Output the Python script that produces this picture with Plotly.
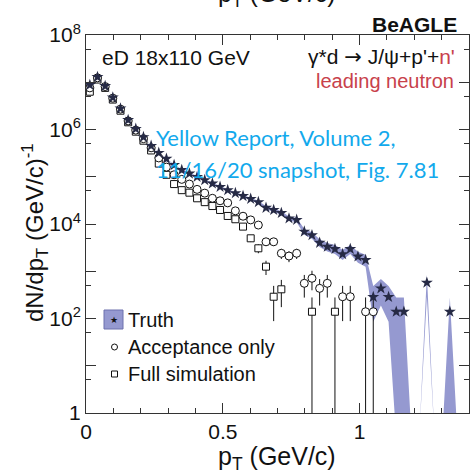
import plotly.graph_objects as go

# ---------------- data ----------------
pt = [0.014, 0.042, 0.070, 0.098, 0.126, 0.154, 0.182, 0.210, 0.238, 0.266,
      0.294, 0.322, 0.350, 0.378, 0.406, 0.434, 0.462, 0.490, 0.518, 0.546,
      0.574, 0.602, 0.630, 0.658, 0.686, 0.714, 0.742, 0.770, 0.798, 0.826,
      0.854, 0.882, 0.910, 0.938, 0.966, 0.994, 1.022, 1.050, 1.078, 1.106,
      1.134, 1.162, 1.190, 1.218, 1.246, 1.274, 1.302, 1.330, 1.358, 1.386]

truth = [8.75e6, 1.29e7, 8.3e6, 4.75e6, 2.78e6, 1.59e6, 1.03e6, 6.9e5, 4.5e5, 3.2e5,
         2.4e5, 1.77e5, 1.39e5, 1.17e5, 9.9e4, 8.5e4, 7.2e4, 6.1e4, 5.2e4, 4.5e4,
         3.9e4, 3.4e4, 2.9e4, 2.2e4, 1.98e4, 1.71e4, 1.31e4, 1.22e4, 6.9e3, 5.8e3,
         4.0e3, 3.3e3, 2.96e3, 2.3e3, 2.96e3, 2.05e3, 1.73e3, 285, 435, 285,
         139, 139, None, None, 573, None, None, 139, None, None]
truth_err = [35000, 42500, 34100, 25800, 19700, 14900, 12000, 9830, 7940, 6690,
             5800, 4980, 4410, 4050, 3720, 3450, 3170, 2920, 2700, 2510,
             2340, 2180, 2010, 1750, 1660, 1550, 1350, 1310, 983, 901,
             748, 680, 644, 567, 644, 536, 492, 200, 247, 200,
             140, 140, None, None, 283, None, None, 140, None, None]

acc = [7.6e6, 1.24e7, 8.1e6, 4.6e6, 2.7e6, 1.52e6, 9.7e5, 6.4e5, 4.1e5, 2.5e5,
       1.6e5, 1.1e5, 8.8e4, 7.0e4, 5.4e4, 4.5e4, 3.5e4, 3.1e4, 2.8e4, 1.9e4,
       1.46e4, 1.22e4, 9.5e3, 4.2e3, 4.2e3, 2.4e3, 2.1e3, 2.4e3, 556, 710,
       435, 556, None, 289, 289, None, 139, 139, None, None,
       None, None, None, None, None, None, None, None, None, None]
acc_err = [32600, 41700, 33700, 25400, 19400, 14600, 11650, 9470, 7580, 5920,
           4730, 3920, 3510, 3130, 2750, 2510, 2210, 2080, 1980, 1630,
           1430, 1307, 1153, 767, 767, 580, 542, 580, 279, 315,
           247, 279, None, 201, 201, None, 140, 140, None, None,
           None, None, None, None, None, None, None, None, None, None]

full = [6.3e6, 1.14e7, 7.6e6, 4.3e6, 2.5e6, 1.42e6, 9.0e5, 5.8e5, 3.6e5, 1.9e5,
        1.1e5, 7.0e4, 5.2e4, 4.6e4, 3.5e4, 2.9e4, 2.4e4, 1.98e4, 1.48e4, 1.26e4,
        8.8e3, 4.98e3, 3.06e3, 1.25e3, 289, 415, None, None, None, 139,
        None, None, 139, None, None, None, None, None, None, None,
        None, None, None, None, None, None, None, None, None, None]
full_err = [29700, 40000, 32600, 24500, 18700, 14100, 11200, 9010, 7100, 5160,
            3920, 3130, 2700, 2540, 2210, 2010, 1830, 1660, 1440, 1330,
            1110, 835, 655, 418, 201, 241, None, None, None, 140,
            None, None, 140, None, None, None, None, None, None, None,
            None, None, None, None, None, None, None, None, None, None]

x_tickvals = [0, 0.5, 1]
x_ticktext = ["0", "0.5", "1"]
x_minor = [0.1, 0.2, 0.3, 0.4, 0.6, 0.7, 0.8, 0.9, 1.1, 1.2, 1.3]
y_tickvals = [1, 1e1, 1e2, 1e3, 1e4, 1e5, 1e6, 1e7, 1e8]
y_ticktext = ["1", " ", "10<sup>2</sup>", " ", "10<sup>4</sup>", " ", "10<sup>6</sup>", " ", "10<sup>8</sup>"]
y_minor = [5, 50, 500, 5e3, 5e4, 5e5, 5e6, 5e7]

# ---------------- layout geometry ----------------
W = H = 473
L, R, T, B = 86, 4, 35, 60
PW, PH = W - L - R, H - T - B
FONT = "Liberation Sans, Arial, sans-serif"
BAND = "#9599d0"
RED = "#c8414b"
BLUE = "#12a9ec"


def px(x):
    return (x - L) / PW


def py(y):
    return (H - B - y) / PH


floor = 0.3
hi = [(v + e) if v else floor for v, e in zip(truth, truth_err)]
lo = [max(v - e, floor) if v else floor for v, e in zip(truth, truth_err)]

fig = go.Figure()
fig.add_trace(go.Scatter(x=pt + pt[::-1], y=hi + lo[::-1], fill="toself",
                         fillcolor=BAND, line=dict(width=0), mode="lines",
                         hoverinfo="skip", showlegend=False))
fig.add_trace(go.Scatter(x=pt, y=full, mode="markers",
                         marker=dict(symbol="square", size=7, color="white",
                                     line=dict(color="#111", width=1)),
                         error_y=dict(type="data", array=full_err, color="#111",
                                      thickness=1, width=0),
                         showlegend=False))
fig.add_trace(go.Scatter(x=pt, y=acc, mode="markers",
                         marker=dict(symbol="circle", size=8, color="white",
                                     line=dict(color="#111", width=1)),
                         error_y=dict(type="data", array=acc_err, color="#111",
                                      thickness=1, width=0),
                         showlegend=False))
fig.add_trace(go.Scatter(x=pt, y=truth, mode="markers",
                         marker=dict(symbol="star", size=9, color="#262a45",
                                     line=dict(width=0)),
                         showlegend=False))

ann = []


def text(x, y, s, size, xanchor="left", color="#111", angle=0, family=FONT):
    ann.append(dict(x=px(x), y=py(y), xref="paper", yref="paper", text=s,
                    showarrow=False, xanchor=xanchor, yanchor="middle",
                    textangle=angle, font=dict(size=size, color=color, family=family)))


text(459, 24, "<b>BeAGLE</b>", 21, "right")
text(100, 57, "eD 18x110 GeV", 21)
text(457, 57, "γ*d <span style='font-family:DejaVu Sans'>→</span> J/ψ+p'+"
     "<span style='color:" + RED + "'>n'</span>", 21, "right")
text(456, 81, "leading neutron", 20, "right", color=RED)
text(154, 137, "Yellow Report, Volume 2,", 22, color=BLUE, family="Lato")
text(154, 169, "11/16/20 snapshot, Fig. 7.81", 22, color=BLUE, family="Lato")
text(126, 320, "Truth", 20)
text(126, 347, "Acceptance only", 20)
text(126, 374, "Full simulation", 20)
text(114, 320, "★", 9, "center", color="#111", family="DejaVu Sans")
text(277, 458, "p<sub>T</sub> (GeV/c)", 25, "center")
text(277, -5, "p<sub>T</sub> (GeV/c)", 25, "center")
text(35, 233, "dN/dp<sub>T</sub> (GeV/c)<sup>-1</sup>", 24, "center", angle=-90)

shapes = [
    dict(type="rect", xref="paper", yref="paper", x0=px(104), x1=px(123),
         y0=py(329), y1=py(310), fillcolor=BAND, line=dict(color="#6d71ad", width=1)),
    dict(type="circle", xref="paper", yref="paper", x0=px(111.5), x1=px(117.5),
         y0=py(350), y1=py(344), fillcolor="white", line=dict(color="#111", width=1)),
    dict(type="rect", xref="paper", yref="paper", x0=px(111.5), x1=px(117.5),
         y0=py(377), y1=py(371), fillcolor="white", line=dict(color="#111", width=1)),
]

axis_common = dict(showline=True, linecolor="#333", linewidth=1, mirror="ticks",
                   ticks="inside", ticklen=10, tickcolor="#333", showgrid=False,
                   zeroline=False, tickfont=dict(size=21, family=FONT, color="#111"))

fig.update_layout(
    width=W, height=H, margin=dict(l=L, r=R, t=T, b=B, autoexpand=False),
    paper_bgcolor="white", plot_bgcolor="white", showlegend=False,
    annotations=ann, shapes=shapes,
    xaxis=dict(range=[0, 1.4], tickmode="array", tickvals=x_tickvals, ticktext=x_ticktext,
               minor=dict(tickmode="array", tickvals=x_minor, ticks="inside", ticklen=5,
                          tickcolor="#333"),
               **axis_common),
    yaxis=dict(type="log", range=[0, 8], tickmode="array", tickvals=y_tickvals,
               ticktext=y_ticktext,
               minor=dict(tickmode="array", tickvals=y_minor, ticks="inside", ticklen=5,
                          tickcolor="#333"),
               **axis_common),
)

fig.write_html("out.html")
